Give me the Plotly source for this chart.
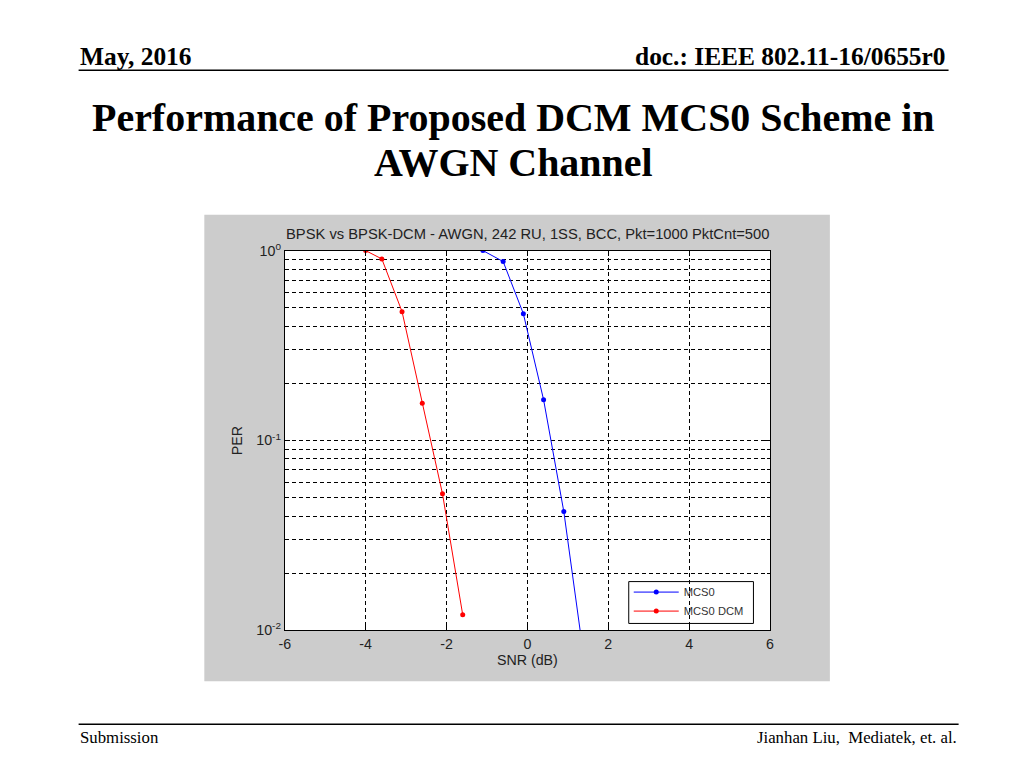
import plotly.graph_objects as go

# ---- data ----
snr_mcs0 = [-1.1, -0.6, -0.1, 0.4, 0.9, 1.4]
per_mcs0 = [1.0, 0.876, 0.465, 0.164, 0.0423, 0.0071]
snr_dcm = [-4.0, -3.6, -3.1, -2.6, -2.1, -1.6]
per_dcm = [1.0, 0.904, 0.477, 0.157, 0.0524, 0.0121]

x_ticks = [-6, -4, -2, 0, 2, 4, 6]
x_tick_text = ["-6", "-4", "-2", "0", "2", "4", "6"]
y_ticks = [0.01, 0.1, 1]
y_tick_text = ["10<sup>-2</sup>", "10<sup>-1</sup>", "10<sup>0</sup>"]
y_minor = [k * 0.01 for k in range(2, 10)] + [k * 0.1 for k in range(2, 10)]

series_names = ["MCS0", "MCS0 DCM"]
axes_title = "BPSK vs BPSK-DCM - AWGN, 242 RU, 1SS, BCC, Pkt=1000 PktCnt=500"

W, H = 1024, 768
# the rendered page is offset/scaled slightly; map target screen px -> figure px
KX, KY = 1040 / 1024, 784 / 768
FS = 1.017  # font compensation


def px(x):
    return (x * KX - 16) / W


def py(y):
    return 1 - (y * KY - 16) / H


def f(s):
    return s * FS


fig = go.Figure()
fig.add_trace(go.Scatter(x=snr_mcs0, y=per_mcs0, mode="lines+markers", name=series_names[0],
                         line=dict(color="#0000ff", width=1), marker=dict(size=5, color="#0000ff")))
fig.add_trace(go.Scatter(x=snr_dcm, y=per_dcm, mode="lines+markers", name=series_names[1],
                         line=dict(color="#ff0000", width=1), marker=dict(size=5, color="#ff0000")))

grid = dict(gridcolor="black", gridwidth=1, griddash="4px,3px")
axfont = dict(family="Arial, Liberation Sans", size=f(14), color="#222")

fig.update_layout(
    width=W, height=H, autosize=False,
    margin=dict(l=0, r=0, t=0, b=0),
    paper_bgcolor="white", plot_bgcolor="white",
    showlegend=True,
    legend=dict(x=px(627), y=py(577), xanchor="left", yanchor="top",
                bgcolor="rgba(0,0,0,0)", borderwidth=0,
                font=dict(family="Arial, Liberation Sans", size=f(11), color="#333"),
                tracegroupgap=0, itemwidth=45),
    xaxis=dict(domain=[px(285), px(767.5)], range=[-6, 6], tickvals=x_ticks, ticktext=x_tick_text,
               showgrid=True, **grid, zeroline=False,
               showline=True, linecolor="black", linewidth=1, mirror="allticks",
               ticks="inside", ticklen=5, tickcolor="black", tickfont=axfont,
               title=dict(text="SNR (dB)", font=axfont, standoff=4)),
    yaxis=dict(domain=[py(630), py(249)], type="log", range=[-2, 0],
               tickvals=y_ticks, ticktext=y_tick_text,
               showgrid=True, **grid, zeroline=False,
               showline=True, linecolor="black", linewidth=1, mirror="allticks",
               ticks="inside", ticklen=5, tickcolor="black", tickfont=axfont,
               minor=dict(tickvals=y_minor, showgrid=True, gridcolor="black", gridwidth=1,
                          griddash="4px,3px", ticks="inside", ticklen=3, tickcolor="black"),
               title=dict(text="PER", font=axfont, standoff=10)),
    shapes=[
        dict(type="rect", xref="paper", yref="paper", x0=px(205), x1=px(827), y0=py(681), y1=py(213),
             fillcolor="#cccccc", line=dict(width=0), layer="below"),
        dict(type="rect", xref="paper", yref="paper", x0=px(285), x1=px(767.5), y0=py(630), y1=py(249),
             fillcolor="white", line=dict(width=0), layer="below"),
        # legend frame
        dict(type="rect", xref="paper", yref="paper", x0=px(627), x1=px(751), y0=py(623), y1=py(581),
             fillcolor="white", line=dict(color="black", width=1), layer="between"),
        dict(type="line", xref="paper", yref="paper", x0=px(80), x1=px(945), y0=py(68), y1=py(68),
             line=dict(color="black", width=1.5)),
        dict(type="line", xref="paper", yref="paper", x0=px(80), x1=px(955), y0=py(724), y1=py(724),
             line=dict(color="black", width=1.5)),
    ],
    annotations=[
        dict(text=axes_title, xref="paper", yref="paper", x=px(526), y=py(232), showarrow=False,
             xanchor="center", yanchor="middle",
             font=dict(family="Arial, Liberation Sans", size=f(14.5), color="#222")),
        dict(text="<b>May, 2016</b>", xref="paper", yref="paper", x=px(79), y=py(54), showarrow=False,
             xanchor="left", yanchor="middle", font=dict(family="Liberation Serif", size=f(25), color="black")),
        dict(text="<b>doc.: IEEE 802.11-16/0655r0</b>", xref="paper", yref="paper", x=px(944), y=py(54),
             showarrow=False, xanchor="right", yanchor="middle",
             font=dict(family="Liberation Serif", size=f(25), color="black")),
        dict(text="<b>Performance of Proposed DCM MCS0 Scheme in</b>", xref="paper", yref="paper",
             x=px(512), y=py(115.5), showarrow=False, xanchor="center", yanchor="middle",
             font=dict(family="Liberation Serif", size=f(39.3), color="black")),
        dict(text="<b>AWGN Channel</b>", xref="paper", yref="paper",
             x=px(512), y=py(160.5), showarrow=False, xanchor="center", yanchor="middle",
             font=dict(family="Liberation Serif", size=f(39.3), color="black")),
        dict(text="Submission", xref="paper", yref="paper", x=px(79), y=py(737), showarrow=False,
             xanchor="left", yanchor="middle", font=dict(family="Liberation Serif", size=f(16.5), color="black")),
        dict(text="Jianhan Liu,\u00a0 Mediatek, et. al.", xref="paper", yref="paper", x=px(955), y=py(737),
             showarrow=False, xanchor="right", yanchor="middle",
             font=dict(family="Liberation Serif", size=f(16.5), color="black")),
    ],
)

fig.write_html("out.html")
